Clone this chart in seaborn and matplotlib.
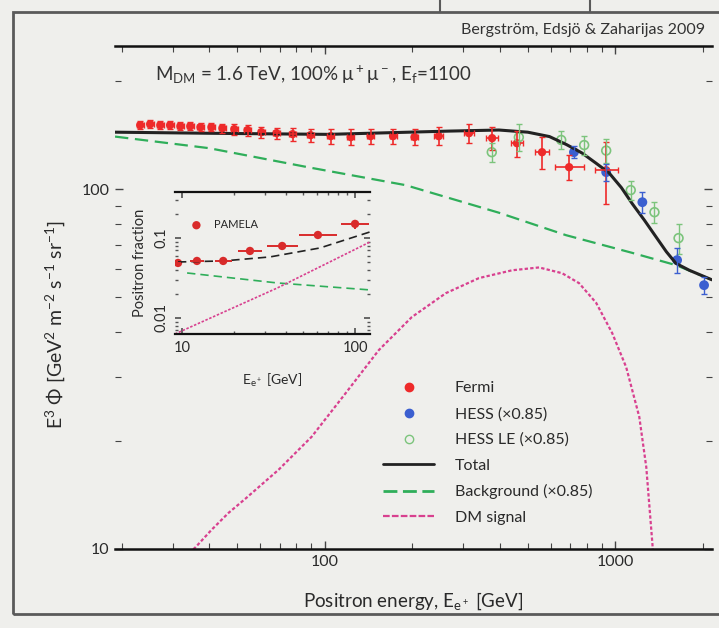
import numpy as np
import seaborn as sns
import matplotlib.pyplot as plt
from matplotlib.lines import Line2D
from matplotlib.patches import Rectangle
from matplotlib.ticker import NullFormatter

# Fermi points: energy [GeV], E^3 flux, vertical error, bin half width [decades]
fermi_e = [23.2, 25.1, 27.2, 29.4, 31.9, 34.5, 37.4, 40.8, 44.5, 48.9, 54.3, 60.6, 68.3,
           77.6, 89.5, 105, 123, 144, 172, 204, 247, 314, 377, 459, 560, 694, 931]
fermi_flux = [150.6, 151.6, 150.6, 150.6, 149.6, 149.6, 148.7, 148.7, 147.7, 146.8, 145.9,
              144.0, 143.1, 142.2, 141.3, 140.4, 139.5, 140.4, 140.4, 139.5, 140.4, 143.1,
              138.6, 134.2, 126.7, 115.1, 112.9]
fermi_err = [4, 4, 4, 4, 4, 4, 4, 4, 4, 5, 5, 5, 5, 6, 6, 7, 7, 7, 7, 7, 8, 9, 10, 11, 13, 9, 22]
fermi_dlog = [0.012] * 20 + [0.015, 0.018, 0.02, 0.022, 0.025, 0.05, 0.04]

# HESS (x0.85)
hess_e = [721, 931, 1240, 1633, 2022]
hess_flux = [126.7, 111.5, 92.0, 63.5, 54.1]
hess_err = [5, 6, 6, 5, 3]

# HESS low energy (x0.85)
hessle_e = [376, 466, 652, 782, 931, 1131, 1365, 1652]
hessle_flux = [126.7, 139.4, 137.0, 132.6, 128.0, 99.4, 86.3, 73.1]
hessle_err = [8, 12, 8, 8, 10, 6, 6, 7]

# model curves
total_e = [19, 40, 103, 268, 398, 500, 594, 680, 769, 860, 952, 1050, 1146, 1260, 1383,
           1500, 1618, 1800, 2150]
total_flux = [144, 143, 142, 145, 146, 144, 140, 133, 126, 118, 111, 101, 91, 82, 73.6,
              67, 62.2, 59.5, 56]
bkg_e = [19, 40, 88, 190, 398, 677, 1146, 1618, 2150]
bkg_flux = [140, 130, 115, 102.6, 86, 74.5, 66.5, 61.5, 56]
dm_e = [32, 35.9, 40.8, 46.7, 53.4, 69.4, 90.2, 118.1, 153.6, 199.5, 261.3, 339.6, 441.4,
        547, 656.5, 751, 860, 976.6, 1091, 1210, 1279, 1342, 1365]
dm_flux = [9.3, 10.1, 11.3, 12.6, 13.8, 16.6, 20.5, 27.1, 35.7, 44.1, 51.4, 56.6, 59.5,
           60.6, 58.4, 54.8, 48.3, 39.8, 32.0, 23.3, 16.9, 10.4, 8.5]

# inset: positron fraction
pamela_e = [9.48, 12.2, 17.3, 24.7, 37.9, 61, 100]
pamela_frac = [0.0487, 0.0516, 0.0516, 0.0688, 0.0794, 0.109, 0.150]
pamela_err = [0.002, 0.002, 0.002, 0.004, 0.005, 0.01, 0.02]
pamela_dlog = [0.02, 0.04, 0.05, 0.07, 0.09, 0.11, 0.08]
frac_e = [9.48, 17.3, 32.2, 62.7, 122]
frac_total = [0.0501, 0.0516, 0.0579, 0.075, 0.119]
frac_bkg_e = [10.7, 35.4, 122]
frac_bkg = [0.0365, 0.0274, 0.0224]
frac_dm_e = [9.11, 35.4, 122]
frac_dm = [0.0063, 0.0236, 0.0891]

sns.set_theme(style='ticks')
plt.rcParams['font.family'] = ['Lato', 'DejaVu Sans']
plt.rcParams['mathtext.default'] = 'regular'

bg = '#efefec'
red = '#ee2a2a'
blue = '#3b5fd0'
green = '#2fae5a'
lgreen = '#7cc47c'
magenta = '#d8408f'
txt = '#2a2a2a'

fig = plt.figure(figsize=(7.19, 6.28), dpi=100, facecolor=bg)
ax = fig.add_axes([0.16, 0.1258, 0.830, 0.801])
ax.set_facecolor(bg)
ax.set_xscale('log')
ax.set_yscale('log')

sns.lineplot(x=bkg_e, y=bkg_flux, ax=ax, color=green, linestyle=(0, (6, 3)), lw=1.6)
sns.lineplot(x=dm_e, y=dm_flux, ax=ax, color=magenta, linestyle=(0, (1.5, 1)), lw=1.6)
sns.lineplot(x=total_e, y=total_flux, ax=ax, color='#222222', lw=2.2)

fe = np.array(fermi_e)
fd = np.array(fermi_dlog)
ax.errorbar(fermi_e, fermi_flux, yerr=fermi_err,
            xerr=[fe - fe * 10 ** -fd, fe * 10 ** fd - fe],
            fmt='none', ecolor=red, elinewidth=1.2, capsize=2)
sns.scatterplot(x=fermi_e, y=fermi_flux, ax=ax, color=red, s=36, edgecolor='none')

ax.errorbar(hessle_e, hessle_flux, yerr=hessle_err, fmt='none', ecolor=lgreen,
            elinewidth=1, capsize=2)
sns.scatterplot(x=hessle_e, y=hessle_flux, ax=ax, facecolor='none', edgecolor=lgreen,
                s=40, linewidth=1.2)
ax.errorbar(hess_e, hess_flux, yerr=hess_err, fmt='none', ecolor=blue, elinewidth=1, capsize=2)
sns.scatterplot(x=hess_e, y=hess_flux, ax=ax, color=blue, s=50, edgecolor='none')

ax.set_xlim(19, 2150)
ax.set_ylim(10, 250)
ax.set_yticks([10, 100])
ax.set_yticklabels(['10', '100'])
ax.set_xticks([100, 1000])
ax.set_xticklabels(['100', '1000'])
ax.xaxis.set_minor_formatter(NullFormatter())
ax.yaxis.set_minor_formatter(NullFormatter())
ax.tick_params(which='both', direction='in', top=True, right=True, labelsize=11.5,
               color='#444444', pad=4, labelcolor=txt)
ax.tick_params(which='major', length=6, width=1)
ax.tick_params(which='minor', length=4, width=0.8)
ax.spines[['left', 'right']].set_visible(False)
for s in ['top', 'bottom']:
    ax.spines[s].set_linewidth(1.8)
    ax.spines[s].set_color('#111111')

ax.set_xlabel('Positron energy, E$_{e^+}$ [GeV]', fontsize=13.5, labelpad=16, color=txt)
ax.set_ylabel('E$^3$ Φ [GeV$^2$ m$^{-2}$ s$^{-1}$ sr$^{-1}$]', fontsize=14, color=txt)
ax.yaxis.set_label_coords(-0.08, 0.447)

handles = [
    Line2D([], [], ls='none', marker='o', color=red, markersize=6),
    Line2D([], [], ls='none', marker='o', color=blue, markersize=6),
    Line2D([], [], ls='none', marker='o', mfc='none', mec=lgreen, markersize=6),
    Line2D([], [], color='#222222', lw=2),
    Line2D([], [], color=green, lw=2, ls=(0, (5, 2))),
    Line2D([], [], color=magenta, lw=1.6, ls=(0, (3, 1))),
]
labels = ['Fermi', 'HESS (×0.85)', 'HESS LE (×0.85)', 'Total', 'Background (×0.85)', 'DM signal']
leg = ax.legend(handles, labels, loc='upper left', bbox_to_anchor=(0.425, 0.362), frameon=False,
                fontsize=11.5, handlelength=3.2, handletextpad=1.3, labelspacing=0.72)
for t in leg.get_texts():
    t.set_color(txt)

# inset with positron fraction
axi = fig.add_axes([0.2434, 0.4682, 0.2712, 0.2261])
axi.set_facecolor('none')
axi.set_xscale('log')
axi.set_yscale('log')
sns.lineplot(x=frac_bkg_e, y=frac_bkg, ax=axi, color=green, linestyle=(0, (5, 3)), lw=1.2)
sns.lineplot(x=frac_dm_e, y=frac_dm, ax=axi, color=magenta, linestyle=(0, (1.5, 1)), lw=1.2)
sns.lineplot(x=frac_e, y=frac_total, ax=axi, color='#222222', linestyle=(0, (5, 3)), lw=1.2)
pe = np.array(pamela_e)
pd_ = np.array(pamela_dlog)
axi.errorbar(pamela_e, pamela_frac, yerr=pamela_err, xerr=[pe - pe * 10 ** -pd_, pe * 10 ** pd_ - pe],
             fmt='none', ecolor='#d92b2b', elinewidth=1.4, capsize=0)
sns.scatterplot(x=pamela_e, y=pamela_frac, ax=axi, color='#d92b2b', s=36, edgecolor='none',
                label='PAMELA')
axi.legend(loc='upper left', bbox_to_anchor=(0.03, 0.84), frameon=False, fontsize=8,
           handletextpad=0.6, borderaxespad=0)
axi.set_xlim(9.11, 122)
axi.set_ylim(0.0063, 0.376)
axi.set_xticks([10, 100])
axi.set_xticklabels(['10', '100'])
axi.set_yticks([0.01, 0.1])
axi.set_yticklabels(['0.01', '0.1'], rotation=90, va='center')
axi.xaxis.set_minor_formatter(NullFormatter())
axi.yaxis.set_minor_formatter(NullFormatter())
axi.tick_params(which='both', direction='in', top=True, right=True, labelsize=10.5,
                color='#555555', pad=5, labelcolor=txt)
axi.tick_params(which='major', length=4)
axi.tick_params(which='minor', length=2.5)
axi.spines[['left', 'right']].set_visible(False)
for s in ['top', 'bottom']:
    axi.spines[s].set_linewidth(1.6)
    axi.spines[s].set_color('#111111')
axi.set_xlabel('E$_{e^+}$ [GeV]', fontsize=10, labelpad=12, color=txt)
axi.set_ylabel('Positron fraction', fontsize=10.5, labelpad=5, color=txt)

fig.text(0.9805, 1 - 30 / 628, 'Bergström, Edsjö & Zaharijas 2009', ha='right', va='center',
         fontsize=11.5, color='#333333')
fig.text(0.2156, 1 - 75 / 628, 'M$_{DM}$ = 1.6 TeV, 100% μ$^+$μ$^-$, E$_f$=1100',
         ha='left', va='center', fontsize=13.5, color='#333333')

# slide frame
fig.patches.append(Rectangle((13 / 719, 1 - 614 / 628), 1.0, 602 / 628, transform=fig.transFigure,
                             fill=False, edgecolor='#5a5a5a', lw=2))
for xf in [440 / 719, 590 / 719]:
    fig.lines.append(Line2D([xf, xf], [1 - 12 / 628, 1], transform=fig.transFigure,
                            color='#5a5a5a', lw=1.5))

fig.savefig('out.png', dpi=100, facecolor=bg)
